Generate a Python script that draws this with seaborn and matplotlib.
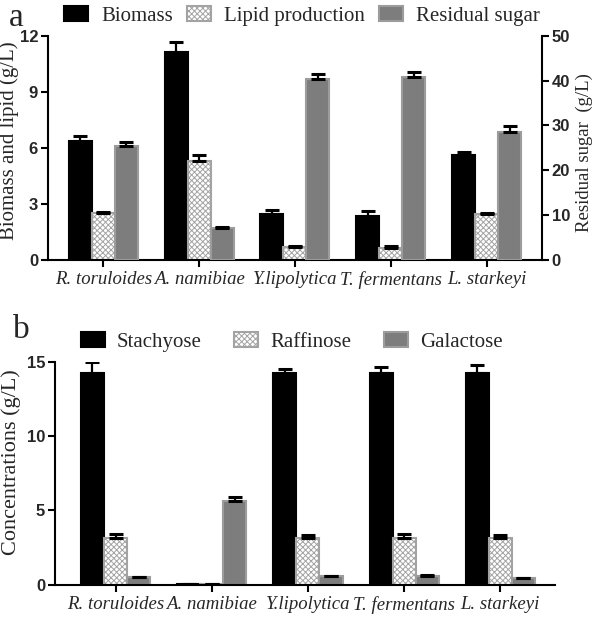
import numpy as np
import pandas as pd
import seaborn as sns
import matplotlib.pyplot as plt
from matplotlib.patches import Patch

strains = ['R. toruloides', 'A. namibiae', 'Y.lipolytica', 'T. fermentans', 'L. starkeyi']

# panel a
series_a = ['Biomass', 'Lipid production', 'Residual sugar']
biomass = [6.36, 11.12, 2.45, 2.36, 5.59]
biomass_err = [0.28, 0.57, 0.23, 0.27, 0.16]
lipid = [2.5, 5.29, 0.7, 0.63, 2.45]
lipid_err = [0.08, 0.3, 0.05, 0.12, 0.03]
sugar = [25.3, 7.0, 40.3, 40.7, 28.5]
sugar_err = [1.0, 0.4, 1.2, 1.3, 1.4]

# panel b
series_b = ['Stachyose', 'Raffinose', 'Galactose']
stachyose = [14.22, 0.05, 14.22, 14.22, 14.22]
stachyose_err = [0.74, 0.0, 0.31, 0.42, 0.53]
raffinose = [3.16, 0.05, 3.16, 3.16, 3.16]
raffinose_err = [0.25, 0.0, 0.2, 0.25, 0.2]
galactose = [0.52, 5.62, 0.6, 0.6, 0.45]
galactose_err = [0.04, 0.27, 0.03, 0.04, 0.03]

sns.set_theme(style='ticks')
plt.rcParams['hatch.linewidth'] = 0.7

SERIF = 'Liberation Serif'
SANS = 'Liberation Sans'

fill_colors = ['black', 'white', '#7d7d7d']
edge_colors = ['black', '#a3a3a3', '#9c9c9c']
hatches = [None, 'xxxxxx', None]


def draw_series(ax, names, idx, values, errors):
    df = pd.DataFrame({'strain': strains, 'value': values, 'series': names[idx]})
    n_before = len(ax.patches)
    sns.barplot(
        data=df
        , x='strain'
        , y='value'
        , hue='series'
        , hue_order=names
        , order=strains
        , palette=dict(zip(names, fill_colors))
        , saturation=1
        , width=0.72
        , dodge=True
        , errorbar=None
        , legend=False
        , edgecolor=edge_colors[idx]
        , linewidth=1.5
        , hatch=hatches[idx]
        , ax=ax
    )
    bars = ax.patches[n_before:]
    xs = [b.get_x() + b.get_width() / 2 for b in bars]
    tops = [b.get_height() for b in bars]
    ax.errorbar(
        xs, tops
        , yerr=[np.zeros(len(errors)), errors]
        , fmt='none', ecolor='black', elinewidth=1.6
        , capsize=5, capthick=2.2, zorder=5
    )


def style_axis(ax, left=True, right=False):
    for side in ['top', 'right', 'left', 'bottom']:
        ax.spines[side].set_linewidth(1.5)
        ax.spines[side].set_color('black')
    ax.spines['top'].set_visible(False)
    ax.spines['right'].set_visible(right)
    ax.spines['left'].set_visible(left)
    ax.tick_params(axis='both', direction='out', width=1.5, length=5, color='black')
    ax.tick_params(axis='y', pad=2)
    for lab in ax.get_yticklabels():
        lab.set_fontfamily(SANS)
        lab.set_fontweight('bold')
        lab.set_fontsize(12)


def legend_handles(names):
    return [
        Patch(facecolor=fill_colors[i], edgecolor=edge_colors[i], hatch=hatches[i], linewidth=1.5, label=n)
        for i, n in enumerate(names)
    ]


fig = plt.figure(figsize=(5.97, 6.17), dpi=100)

# ---- panel a
ax = fig.add_axes([0.080, 0.579, 0.828, 0.363])
ax2 = ax.twinx()
draw_series(ax, series_a, 0, biomass, biomass_err)
draw_series(ax, series_a, 1, lipid, lipid_err)
draw_series(ax2, series_a, 2, sugar, sugar_err)

ax.set_xlim(-0.58, 4.58)
ax.set_ylim(0, 12)
ax.set_yticks([0, 3, 6, 9, 12])
ax2.set_ylim(0, 50)
ax2.set_yticks([0, 10, 20, 30, 40, 50])
ax.set_xticks(range(len(strains)))
ax.set_xticklabels(strains, fontfamily=SERIF, fontstyle='italic', fontsize=13.5)
ax.set_xlabel('')
ax2.set_xlabel('')
ax.set_ylabel('Biomass and lipid (g/L)', fontfamily=SERIF, fontsize=15)
ax.yaxis.set_label_coords(-0.058, 0.53)
ax2.set_ylabel('Residual sugar  (g/L)', fontfamily=SERIF, fontsize=13.5)
ax2.yaxis.set_label_coords(1.068, 0.48)
style_axis(ax)
style_axis(ax2, left=False, right=True)
ax2.spines['bottom'].set_visible(False)
ax.tick_params(axis='x', pad=3)

fig.legend(
    handles=legend_handles(series_a)
    , loc='center left', bbox_to_anchor=(0.108, 0.974)
    , ncol=3, frameon=False, borderpad=0, borderaxespad=0
    , handlelength=1.15, handleheight=0.7, handletextpad=0.6, columnspacing=0.7
    , prop={'family': SERIF, 'size': 15}
)
fig.text(0.015, 0.972, 'a', fontfamily=SERIF, fontsize=24, va='center')

# ---- panel b
bx = fig.add_axes([0.092, 0.052, 0.838, 0.362])
draw_series(bx, series_b, 0, stachyose, stachyose_err)
draw_series(bx, series_b, 1, raffinose, raffinose_err)
draw_series(bx, series_b, 2, galactose, galactose_err)

bx.set_xlim(-0.63, 4.57)
bx.set_ylim(0, 15)
bx.set_yticks([0, 5, 10, 15])
bx.set_xticks(range(len(strains)))
bx.set_xticklabels(strains, fontfamily=SERIF, fontstyle='italic', fontsize=13.5)
bx.set_xlabel('')
bx.set_ylabel('Concentrations (g/L)', fontfamily=SERIF, fontsize=16)
bx.yaxis.set_label_coords(-0.068, 0.55)
style_axis(bx)
bx.tick_params(axis='x', pad=3)

fig.legend(
    handles=legend_handles(series_b)
    , loc='center left', bbox_to_anchor=(0.135, 0.446)
    , ncol=3, frameon=False, borderpad=0, borderaxespad=0
    , handlelength=1.15, handleheight=0.7, handletextpad=0.6, columnspacing=1.55
    , prop={'family': SERIF, 'size': 15}
)
fig.text(0.022, 0.466, 'b', fontfamily=SERIF, fontsize=24, va='center')

fig.savefig('out.png', dpi=100)
